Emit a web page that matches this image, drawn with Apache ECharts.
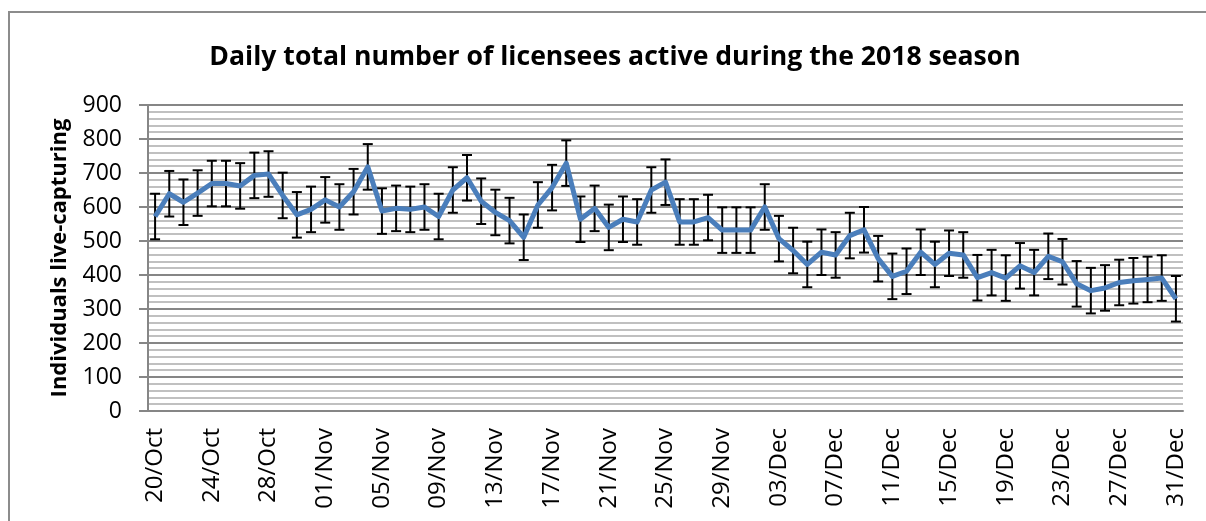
<!DOCTYPE html>
<html>
<head>
<meta charset="utf-8">
<script src="https://cdn.jsdelivr.net/npm/echarts@6/dist/echarts.min.js"></script>
<style>
  html, body { margin: 0; padding: 0; background: #fff; }
  #chart { width: 1206px; height: 521px; }
</style>
</head>
<body>
<div id="chart"></div>
<script>
// daily dates, 20 Oct - 31 Dec 2018
var days = [
  "20/Oct","21/Oct","22/Oct","23/Oct","24/Oct","25/Oct","26/Oct","27/Oct","28/Oct","29/Oct","30/Oct","31/Oct",
  "01/Nov","02/Nov","03/Nov","04/Nov","05/Nov","06/Nov","07/Nov","08/Nov","09/Nov","10/Nov",
  "11/Nov","12/Nov","13/Nov","14/Nov","15/Nov","16/Nov","17/Nov","18/Nov","19/Nov","20/Nov",
  "21/Nov","22/Nov","23/Nov","24/Nov","25/Nov","26/Nov","27/Nov","28/Nov","29/Nov","30/Nov",
  "01/Dec","02/Dec","03/Dec","04/Dec","05/Dec","06/Dec","07/Dec","08/Dec","09/Dec","10/Dec",
  "11/Dec","12/Dec","13/Dec","14/Dec","15/Dec","16/Dec","17/Dec","18/Dec","19/Dec","20/Dec",
  "21/Dec","22/Dec","23/Dec","24/Dec","25/Dec","26/Dec","27/Dec","28/Dec","29/Dec","30/Dec","31/Dec"
];

// individuals live-capturing per day
var activeLicensees = [
  572, 639, 614, 641, 669, 669, 662, 693, 697, 634, 577, 593,
  621, 600, 645, 718, 588, 596, 593, 600, 572, 650,
  686, 617, 584, 560, 511, 606, 657, 729, 564, 596,
  540, 564, 556, 650, 673, 556, 556, 569, 532, 532,
  532, 600, 507, 472, 431, 467, 459, 516, 533, 448,
  396, 411, 467, 431, 464, 459, 392, 407, 391, 427,
  407, 455, 439, 374, 354, 362, 378, 383, 387, 391, 330
];

// error bar half length (same for every day)
var errorMargin = 67;

var yTicks = { min: 0, max: 900, interval: 100 };

var FONT = 'Open Sans';

var chart = echarts.init(document.getElementById('chart'));

var errData = activeLicensees.map(function (v, i) {
  return [i, v - errorMargin, v + errorMargin];
});

var option = {
  animation: false,
  backgroundColor: '#fff',
  textStyle: { fontFamily: FONT },
  title: {
    text: 'Daily total number of licensees active during the 2018 season',
    left: 610,
    textAlign: 'center',
    top: 39,
    textStyle: { fontSize: 26.6, fontWeight: 'bold', color: '#000', fontFamily: FONT }
  },
  graphic: [{
    type: 'rect',
    shape: { x: 9, y: 12, width: 1300, height: 700 },
    style: { fill: 'none', stroke: '#8c8c8c', lineWidth: 2 },
    silent: true
  }],
  grid: { left: 148, right: 23, top: 105, bottom: 110 },
  xAxis: {
    type: 'category',
    data: days,
    boundaryGap: true,
    axisLine: { lineStyle: { color: '#868686', width: 2 } },
    axisTick: { interval: 3, length: 8, lineStyle: { color: '#868686', width: 2 } },
    axisLabel: { interval: 3, rotate: 90, fontSize: 24, color: '#000', margin: 17, fontFamily: FONT },
    splitLine: { show: false }
  },
  yAxis: {
    type: 'value',
    min: yTicks.min,
    max: yTicks.max,
    interval: yTicks.interval,
    name: 'Individuals live-capturing',
    nameLocation: 'middle',
    nameGap: 77,
    nameTextStyle: { fontSize: 22, fontWeight: 'bold', color: '#000', fontFamily: FONT },
    axisLine: { show: true, lineStyle: { color: '#868686', width: 2 } },
    axisTick: { show: true, length: 9, lineStyle: { color: '#868686', width: 2 } },
    axisLabel: { fontSize: 23, color: '#000', margin: 26, fontFamily: FONT },
    splitLine: { lineStyle: { color: '#868686', width: 2 } },
    minorTick: { show: false, splitNumber: 5 },
    minorSplitLine: { show: true, lineStyle: { color: '#c0c0c0', width: 2 } }
  },
  series: [
    {
      type: 'custom',
      data: errData,
      z: 2,
      renderItem: function (params, api) {
        var x = api.value(0);
        var lo = api.coord([x, api.value(1)]);
        var hi = api.coord([x, api.value(2)]);
        var cap = 5;
        var st = { stroke: '#000', lineWidth: 2 };
        return {
          type: 'group',
          children: [
            { type: 'line', shape: { x1: lo[0], y1: lo[1], x2: hi[0], y2: hi[1] }, style: st },
            { type: 'line', shape: { x1: lo[0] - cap, y1: lo[1], x2: lo[0] + cap, y2: lo[1] }, style: st },
            { type: 'line', shape: { x1: hi[0] - cap, y1: hi[1], x2: hi[0] + cap, y2: hi[1] }, style: st }
          ]
        };
      }
    },
    {
      type: 'line',
      data: activeLicensees,
      z: 3,
      showSymbol: false,
      symbol: 'none',
      lineStyle: { color: '#4A7EBB', width: 5, join: 'round' }
    }
  ]
};

chart.setOption(option);
</script>
</body>
</html>
